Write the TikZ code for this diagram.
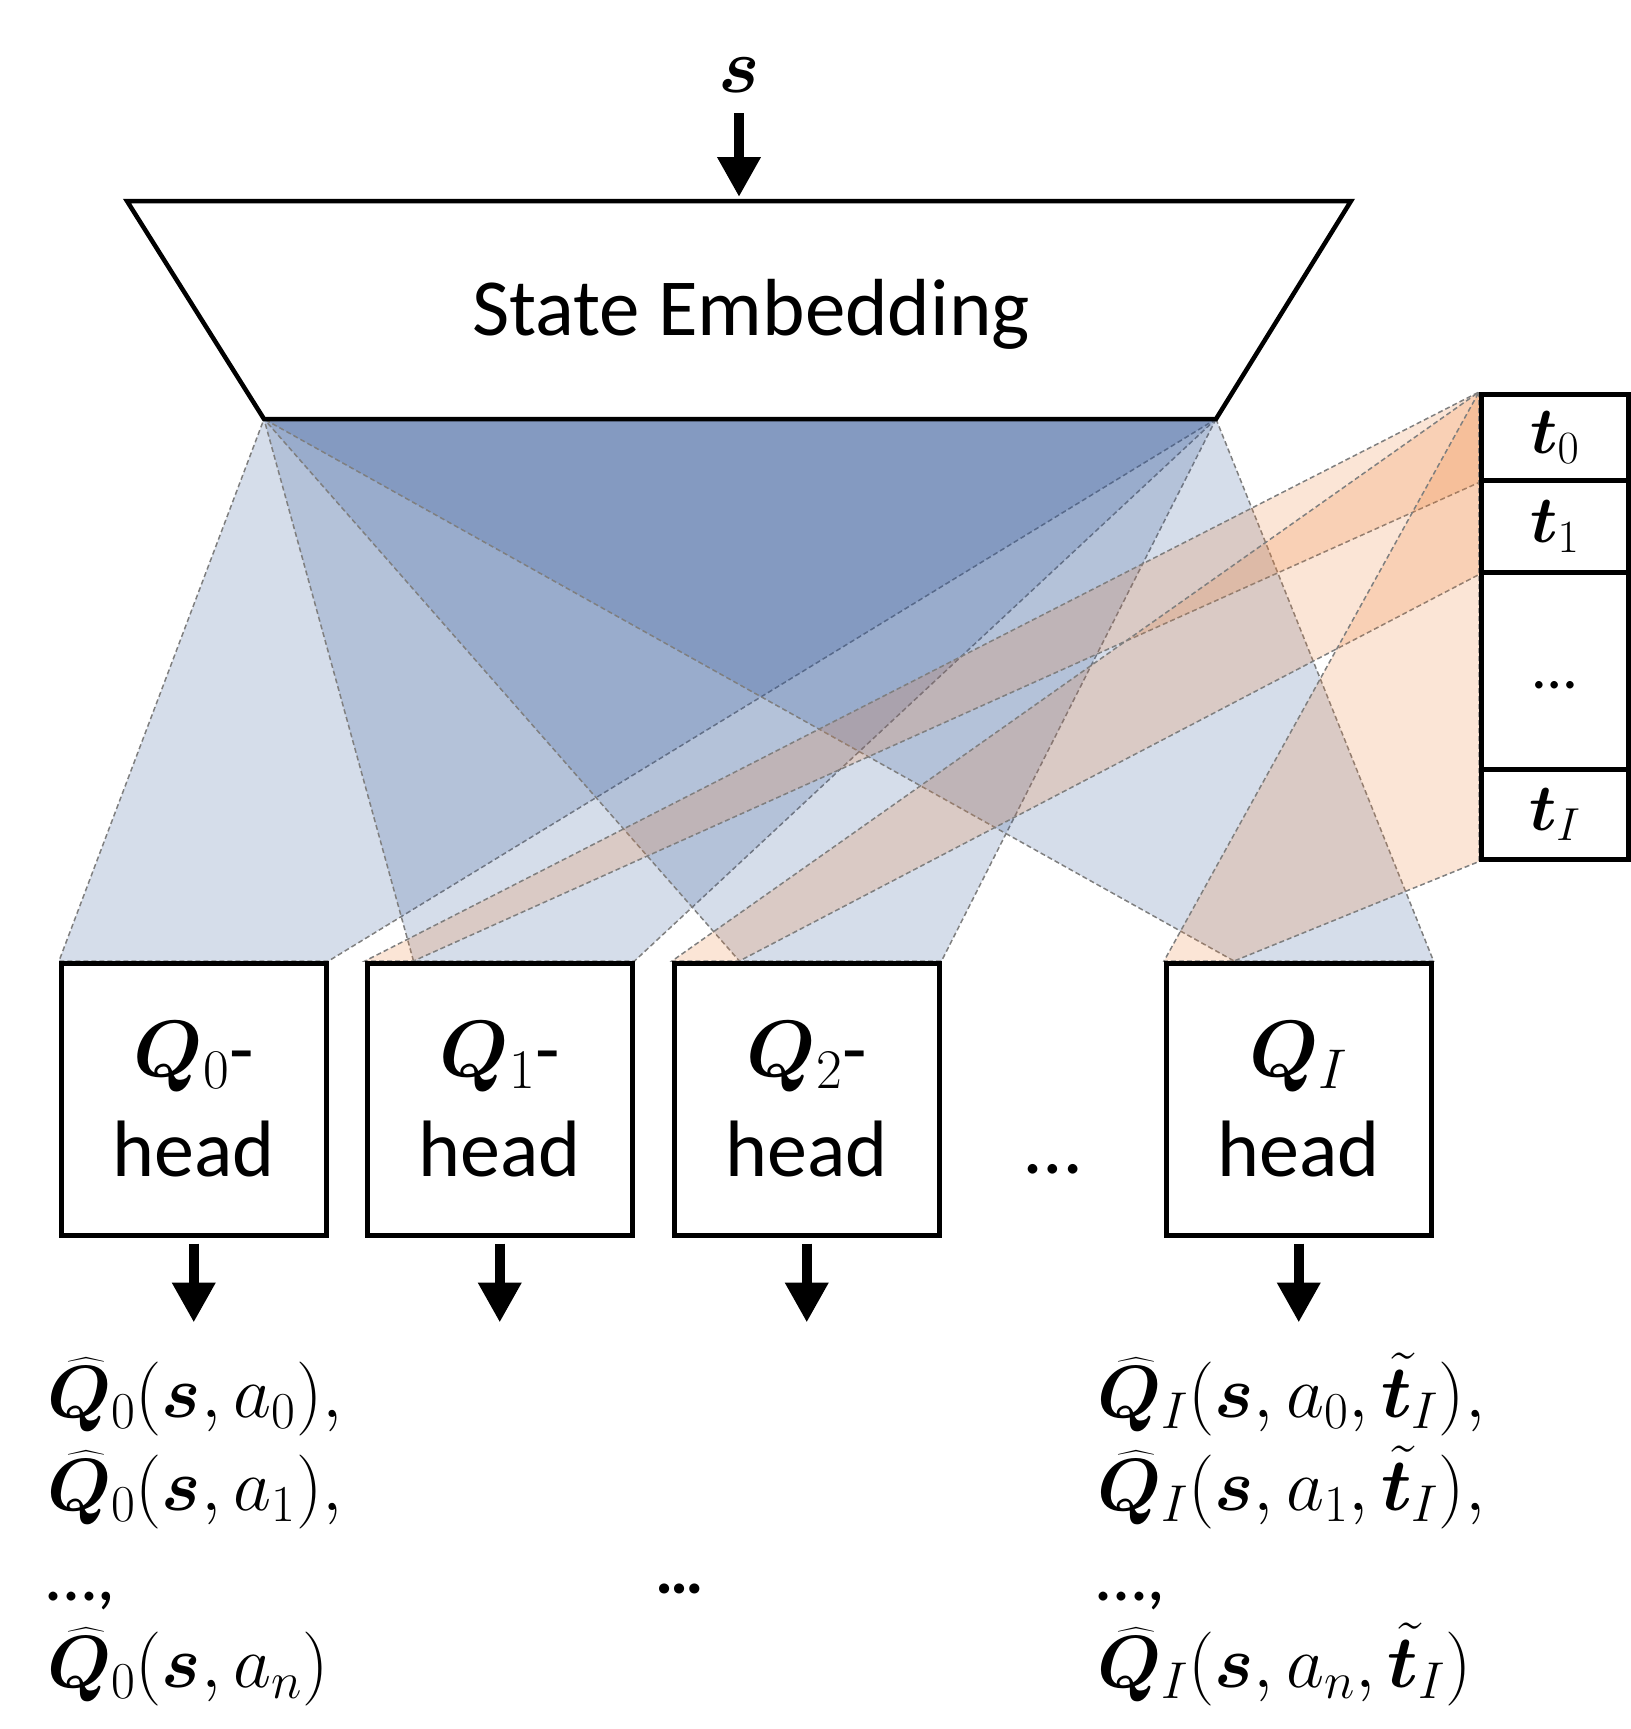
\RequirePackage{fix-cm}
\documentclass[tikz,border=0pt]{standalone}
\usepackage{amsmath,bm}
\usepackage[no-math]{fontspec}
\newfontfamily\calfont{Carlito}
\usetikzlibrary{arrows.meta,calc}
\pgfdeclarelayer{background}
\pgfsetlayers{background,main}
\definecolor{fanblue}{HTML}{2F5597}
\definecolor{fanorange}{HTML}{ED7D31}
\definecolor{dashgray}{HTML}{7F7F7F}
\newcommand{\qhat}[1]{\smash{\bm{\widehat{Q}}}_{#1}}
\tikzset{
 bluefan/.style={fill=fanblue, fill opacity=0.2, draw=dashgray, dash pattern=on 5pt off 3pt, line width=1.5pt},
 orangefan/.style={fill=fanorange, fill opacity=0.2, draw=dashgray, dash pattern=on 5pt off 3pt, line width=1.5pt},
 headbox/.style={draw, line width=4.5pt, fill=white, minimum width=265pt, minimum height=272pt, anchor=north west, align=center, font=\calfont\fontsize{80}{100}\selectfont, inner sep=0pt},
 tbox/.style={draw, line width=4.5pt, fill=white, anchor=north west, minimum width=147pt, inner sep=0pt, font=\fontsize{66}{72}\selectfont},
 outarrow/.style={line width=10pt, -{Triangle[length=40pt,width=41pt]}},
 mathlbl/.style={font=\fontsize{74}{84}\selectfont, anchor=base west, inner sep=0pt},
}
\begin{document}
\begin{tikzpicture}[x=1pt,y=-1pt]
\useasboundingbox (0,0) rectangle (1630,1729);
% trapezoid corners
\coordinate (D) at (127,201);
\coordinate (C) at (1351,201);
\coordinate (B) at (1216,419);
\coordinate (A) at (264,419);
% trapezoid
\draw[fill=white, line width=4.5pt, line join=miter] (D) -- (C) -- (B) -- (A) -- cycle;
\node[font=\calfont\fontsize{81}{97}\selectfont, anchor=base, inner sep=0pt] (se) at (751,335) {State Embedding};
% heads
\path (59,961) node[headbox] (h0) {$\bm{Q}_0$-\\head};
\path (365,961) node[headbox] (h1) {$\bm{Q}_1$-\\head};
\path (672,961) node[headbox] (h2) {$\bm{Q}_2$-\\head};
\path (1164,961) node[headbox] (hI) {$\bm{Q}_I$\\head};
% t boxes
\path (1479,392) node[tbox, minimum height=86pt] (t0) {$\bm{t}_0$};
\path (1479,478) node[tbox, minimum height=92pt] (t1) {$\bm{t}_1$};
\path (1479,570) node[tbox, minimum height=197pt] (td) {};
\path (1479,767) node[tbox, minimum height=90pt] (tI) {$\bm{t}_I$};
\node[font=\calfont\fontsize{62}{70}\selectfont, anchor=base, inner sep=0pt] (tdots) at (1555,688) {…};
\coordinate (L1) at ($(h1.north west)!0.18!(h1.north east)$);
\coordinate (L2) at ($(h2.north west)!0.25!(h2.north east)$);
\coordinate (LI) at ($(hI.north west)!0.26!(hI.north east)$);
\begin{pgfonlayer}{background}
% blue fans
\draw[bluefan] (A) -- (B) -- (h0.north east) -- (h0.north west) -- cycle;
\draw[bluefan] (A) -- (B) -- (h1.north east) -- (L1) -- cycle;
\draw[bluefan] (A) -- (B) -- (h2.north east) -- (L2) -- cycle;
\draw[bluefan] (A) -- (B) -- (hI.north east) -- (LI) -- cycle;
% orange fans
\draw[orangefan] (t0.north west) -- (t0.south west) -- (L1) -- (h1.north west) -- cycle;
\draw[orangefan] (t0.north west) -- (t1.south west) -- (L2) -- (h2.north west) -- cycle;
\draw[orangefan] (t0.north west) -- (tI.south west) -- (LI) -- (hI.north west) -- cycle;
\end{pgfonlayer}
% input
\node[font=\fontsize{78}{80}\selectfont, anchor=base, inner sep=0pt] (s) at (739,92) {$\bm{s}$};
\coordinate (sin) at (739,113);
\coordinate (etop) at (739,197);
\draw[outarrow] (sin) -- (etop);
% head arrows
\foreach \h in {h0,h1,h2,hI}{
  \draw[outarrow] ($(\h.south)+(0,6)$) -- ++(0,79);
}
\node[font=\calfont\fontsize{80}{100}\selectfont, anchor=base, inner sep=0pt] (hdots) at (1053,1173) {…};
% outputs
\node[mathlbl] (o01) at (47,1417) {$\qhat{0}(\bm{s},a_0),$};
\node[mathlbl] (o02) at (47,1510) {$\qhat{0}(\bm{s},a_1),$};
\node[mathlbl, font=\calfont\itshape\fontsize{74}{84}\selectfont] (o03) at (47,1600) {…,};
\node[mathlbl] (o04) at (47,1687) {$\qhat{0}(\bm{s},a_n)$};
\node[mathlbl] (oI1) at (1097,1417) {$\qhat{I}(\bm{s},a_0,\smash{\tilde{\bm{t}}}_I),$};
\node[mathlbl] (oI2) at (1097,1510) {$\qhat{I}(\bm{s},a_1,\smash{\tilde{\bm{t}}}_I),$};
\node[mathlbl, font=\calfont\itshape\fontsize{74}{84}\selectfont] (oI3) at (1097,1600) {…,};
\node[mathlbl] (oI4) at (1097,1687) {$\qhat{I}(\bm{s},a_n,\smash{\tilde{\bm{t}}}_I)$};
\node[font=\calfont\bfseries\fontsize{68}{80}\selectfont, anchor=base, inner sep=0pt] (mdots) at (680,1593) {…};
\end{tikzpicture}
\end{document}
